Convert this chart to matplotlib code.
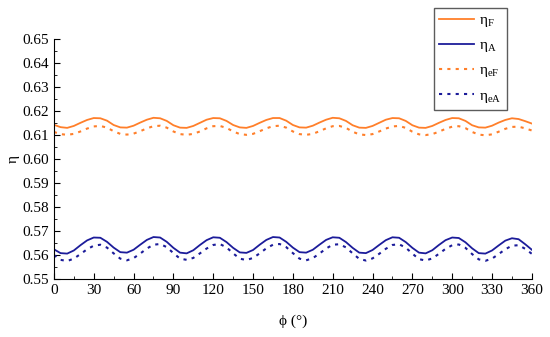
import matplotlib
matplotlib.use("Agg")
import matplotlib.pyplot as plt
from matplotlib.ticker import MultipleLocator

plt.rcParams["font.family"] = ["Liberation Serif", "DejaVu Serif"]
plt.rcParams["font.size"] = 11
plt.rcParams["mathtext.fontset"] = "custom"
plt.rcParams["mathtext.rm"] = "Liberation Serif"

phi = list(range(0, 361, 5))

eta_F = [
    0.6143, 0.6133, 0.6130, 0.6138, 0.6151, 0.6163, 0.6171, 0.6170, 0.6160,
    0.6142, 0.6132, 0.6131, 0.6139, 0.6152, 0.6164, 0.6172, 0.6170, 0.6159,
    0.6141, 0.6131, 0.6130, 0.6138, 0.6151, 0.6164, 0.6171, 0.6170, 0.6159,
    0.6142, 0.6132, 0.6130, 0.6138, 0.6151, 0.6163, 0.6171, 0.6171, 0.6160,
    0.6142, 0.6132, 0.6131, 0.6139, 0.6152, 0.6164, 0.6172, 0.6170, 0.6159,
    0.6141, 0.6131, 0.6130, 0.6138, 0.6151, 0.6164, 0.6171, 0.6170, 0.6159,
    0.6141, 0.6131, 0.6130, 0.6138, 0.6151, 0.6163, 0.6171, 0.6170, 0.6159,
    0.6141, 0.6132, 0.6131, 0.6139, 0.6152, 0.6163, 0.6170, 0.6167, 0.6158,
    0.6148,
]

eta_A = [
    0.5624, 0.5608, 0.5606, 0.5619, 0.5641, 0.5661, 0.5673, 0.5672, 0.5655,
    0.5631, 0.5612, 0.5610, 0.5622, 0.5643, 0.5663, 0.5675, 0.5673, 0.5655,
    0.5630, 0.5610, 0.5607, 0.5620, 0.5642, 0.5662, 0.5674, 0.5672, 0.5654,
    0.5630, 0.5611, 0.5609, 0.5621, 0.5643, 0.5663, 0.5675, 0.5673, 0.5655,
    0.5631, 0.5612, 0.5610, 0.5622, 0.5643, 0.5663, 0.5674, 0.5672, 0.5654,
    0.5630, 0.5610, 0.5608, 0.5621, 0.5642, 0.5662, 0.5674, 0.5672, 0.5654,
    0.5630, 0.5610, 0.5607, 0.5620, 0.5642, 0.5662, 0.5673, 0.5671, 0.5653,
    0.5628, 0.5608, 0.5606, 0.5619, 0.5640, 0.5660, 0.5670, 0.5666, 0.5645,
    0.5622,
]

eta_eF = [
    0.6113, 0.6104, 0.6101, 0.6105, 0.6115, 0.6127, 0.6136, 0.6138, 0.6131,
    0.6116, 0.6105, 0.6102, 0.6106, 0.6116, 0.6128, 0.6137, 0.6139, 0.6131,
    0.6115, 0.6104, 0.6101, 0.6105, 0.6115, 0.6128, 0.6137, 0.6138, 0.6130,
    0.6115, 0.6104, 0.6101, 0.6105, 0.6116, 0.6128, 0.6137, 0.6139, 0.6131,
    0.6115, 0.6104, 0.6101, 0.6105, 0.6116, 0.6128, 0.6137, 0.6138, 0.6130,
    0.6114, 0.6103, 0.6100, 0.6104, 0.6115, 0.6127, 0.6136, 0.6138, 0.6130,
    0.6114, 0.6103, 0.6100, 0.6104, 0.6114, 0.6126, 0.6135, 0.6137, 0.6129,
    0.6113, 0.6102, 0.6099, 0.6103, 0.6114, 0.6126, 0.6134, 0.6135, 0.6128,
    0.6119,
]

eta_eA = [
    0.5600, 0.5580, 0.5575, 0.5585, 0.5604, 0.5624, 0.5639, 0.5643, 0.5631,
    0.5607, 0.5585, 0.5578, 0.5587, 0.5606, 0.5627, 0.5643, 0.5646, 0.5633,
    0.5608, 0.5585, 0.5580, 0.5588, 0.5607, 0.5627, 0.5642, 0.5646, 0.5632,
    0.5607, 0.5585, 0.5579, 0.5588, 0.5607, 0.5628, 0.5643, 0.5646, 0.5633,
    0.5608, 0.5585, 0.5578, 0.5587, 0.5606, 0.5627, 0.5643, 0.5645, 0.5632,
    0.5607, 0.5584, 0.5577, 0.5586, 0.5605, 0.5626, 0.5642, 0.5645, 0.5631,
    0.5606, 0.5583, 0.5577, 0.5586, 0.5605, 0.5626, 0.5641, 0.5644, 0.5630,
    0.5604, 0.5582, 0.5576, 0.5585, 0.5604, 0.5624, 0.5639, 0.5641, 0.5626,
    0.5605,
]

orange = "#FF7F2A"
navy = "#1C1C9A"

fig = plt.figure(figsize=(5.5, 3.37), dpi=100)
ax = fig.add_axes([0.098, 0.172, 0.869, 0.712])

ax.plot(phi, eta_F, color=orange, lw=1.3, label="η$_{\\mathrm{F}}$")
ax.plot(phi, eta_A, color=navy, lw=1.3, label="η$_{\\mathrm{A}}$")
ax.plot(phi, eta_eF, color=orange, lw=1.5, linestyle=(0, (1.5, 2.5)),
        label="η$_{\\mathrm{eF}}$")
ax.plot(phi, eta_eA, color=navy, lw=1.5, linestyle=(0, (1.5, 2.5)),
        label="η$_{\\mathrm{eA}}$")

ax.set_xlim(0, 360)
ax.set_ylim(0.55, 0.65)
ax.xaxis.set_major_locator(MultipleLocator(30))
ax.xaxis.set_minor_locator(MultipleLocator(15))
ax.yaxis.set_major_locator(MultipleLocator(0.01))
ax.yaxis.set_minor_locator(MultipleLocator(0.005))
ax.yaxis.set_major_formatter(plt.FormatStrFormatter("%.2f"))

ax.spines["top"].set_visible(False)
ax.spines["right"].set_visible(False)
ax.tick_params(which="both", direction="in", labelsize=11)
ax.tick_params(which="major", length=4)
ax.tick_params(which="minor", length=2)

ax.set_xlabel("ϕ (°)", fontsize=11, labelpad=13)
ax.set_ylabel("η", fontsize=11, labelpad=2)

fig.legend(loc="upper left", bbox_to_anchor=(434 / 550, 1 - 8 / 337),
           borderaxespad=0, frameon=True, fancybox=False,
           edgecolor="#333333", fontsize=11, handlelength=2.3,
           handletextpad=0.3, labelspacing=0.62, borderpad=0.35)

fig.savefig("out.png", dpi=100)
